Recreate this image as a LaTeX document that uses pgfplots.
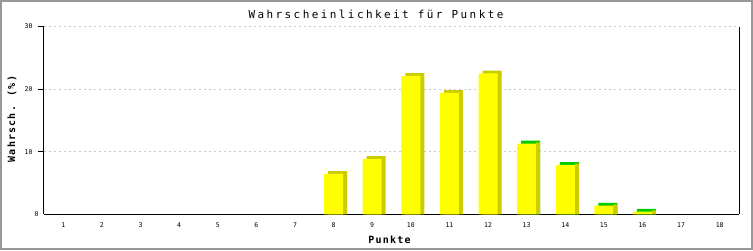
\documentclass[border=0pt]{standalone}
\usepackage{pgfplots}
\pgfplotsset{compat=1.18}
\usepackage{fontspec}
\newfontfamily\titlefont[LetterSpace=22]{DejaVu Sans Mono}
\newfontfamily\labfont[LetterSpace=12]{DejaVu Sans Mono}
\newfontfamily\tickfont{DejaVu Sans Mono}
\definecolor{barY}{RGB}{255,255,0}
\definecolor{barD}{RGB}{204,204,0}
\definecolor{barG}{RGB}{0,204,0}
\definecolor{gridC}{RGB}{200,200,200}
\definecolor{frameC}{RGB}{153,153,153}
\begin{document}
\begin{tikzpicture}
\path[use as bounding box] (-44pt,-35.7pt) rectangle (709pt,214.3pt);
\draw[frameC, line width=2pt] (-43pt,-34.7pt) rectangle (708pt,213.3pt);
\begin{axis}[
  at={(0pt,0pt)}, anchor=origin,
  scale only axis, width=695pt, height=187.8pt,
  xmin=0.5, xmax=18.5, ymin=0, ymax=30,
  xtick={1,...,18}, ytick={10,20,30},
  extra y ticks={0}, extra y tick style={major tick length=0pt, grid=none},
  axis x line=bottom, axis y line=box,
  x axis line style={-, line width=1pt}, y axis line style={-, line width=1pt},
  ytick pos=left, tick align=outside, major tick length=6pt,
  xtick style={draw=none},
  ymajorgrids, grid style={gridC, dash pattern=on 2pt off 3pt, line width=0.8pt},
  tick style={black, line width=1pt},
  /pgf/number format/assume math mode=true,
  ticklabel style={font=\tickfont\fontsize{6.5}{7}\selectfont},
  yticklabel style={xshift=-2pt},
  xticklabel style={yshift=1.5pt},
  title={Wahrscheinlichkeit für Punkte},
  title style={font=\titlefont\fontsize{11}{13}\selectfont, at={(rel axis cs:0.5,1)}, anchor=center, xshift=-15.5pt, yshift=6pt},
  xlabel={Punkte},
  xlabel style={font=\labfont\bfseries\fontsize{10}{12}\selectfont, at={(rel axis cs:0.5,0)}, anchor=center, yshift=-25.2pt, xshift=-2pt},
  ylabel={Wahrsch. (\%)},
  ylabel style={font=\labfont\bfseries\fontsize{10}{12}\selectfont, at={([xshift=-32pt]rel axis cs:0,0.507)}, anchor=center},
  clip=false,
]
% dark back faces (bars with dark top)
\addplot[ybar, bar width=19pt, bar shift=4pt, fill=barD, draw=none]
  coordinates {(8,6.89) (9,9.28) (10,22.55) (11,19.85) (12,22.95)};
% green top faces
\addplot[ybar, bar width=19pt, bar shift=4pt, fill=barG, draw=none]
  coordinates {(13,11.75) (14,8.35) (15,1.82) (16,0.87)};
% dark side faces of green-topped bars
\addplot[ybar, bar width=4pt, bar shift=11.5pt, fill=barD, draw=none]
  coordinates {(13,11.5) (14,8.1) (15,1.57) (16,0.62)};
% front faces
\addplot[ybar, bar width=19pt, bar shift=0pt, fill=barY, draw=none]
  coordinates {(8,6.44) (9,8.83) (10,22.1) (11,19.4) (12,22.5) (13,11.3) (14,7.9) (15,1.37) (16,0.42)};
\end{axis}
\end{tikzpicture}
\end{document}
